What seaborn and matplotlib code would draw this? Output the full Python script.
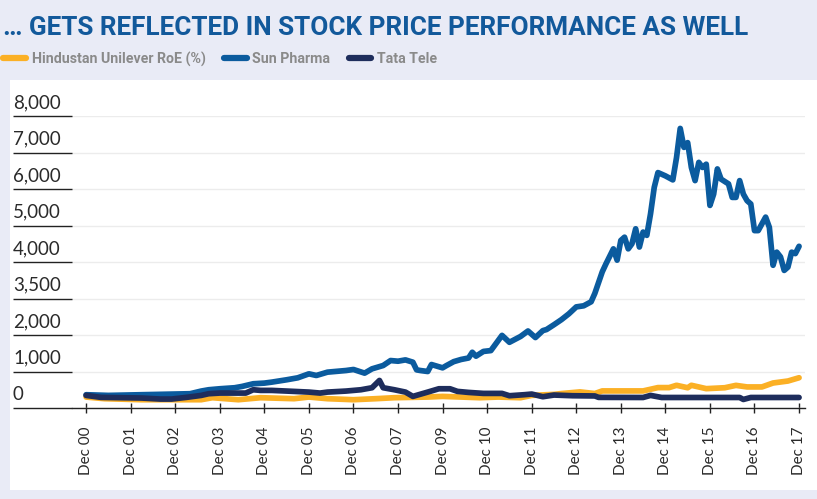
import numpy as np
import pandas as pd
import matplotlib
matplotlib.use("Agg")
import matplotlib.pyplot as plt
import matplotlib.transforms as mtransforms
from matplotlib.lines import Line2D
from matplotlib.patches import Rectangle
import seaborn as sns

# months counted from Dec 00 (each tick = 12 months on the chart's axis)
hul_months = [0, 5, 15, 31, 34, 41, 47, 56, 60, 65, 72, 78, 83, 92, 96, 106, 111, 117, 120,
              126, 128, 133, 137, 139, 150, 154, 157, 159, 162, 163, 167, 172, 175, 178, 182,
              185, 189, 192]
hul_values = [300, 255, 227, 227, 282, 227, 282, 255, 300, 255, 227, 255, 282, 300, 318, 282,
              300, 282, 345, 373, 396, 441, 396, 468, 468, 559, 559, 622, 555, 622, 530, 555,
              620, 577, 577, 685, 739, 829]

sun_months = [0, 6, 15, 28, 31, 33, 36, 40, 42, 45, 48, 50, 54, 57, 60, 62, 65, 68, 70, 72,
              75, 77, 80, 82, 84, 86, 88, 89, 90, 92, 93, 96, 97, 99, 101, 103, 104, 105, 107,
              109, 112, 114, 117, 119, 121, 123, 124, 126, 128, 130, 132, 134, 136, 137, 139,
              140, 142, 143, 144, 145, 146, 147, 148, 149, 150, 151, 152, 153, 154, 156, 158,
              159, 160, 161, 162, 163, 164, 165, 166, 167, 168, 169, 170, 171, 173, 174, 175,
              176, 177, 178, 179, 180, 181, 183, 184, 185, 186, 187, 188, 189, 190, 191, 192]
sun_values = [364, 345, 364, 391, 464, 500, 527, 555, 591, 664, 682, 709, 773, 827, 936, 891,
              982, 1009, 1027, 1055, 955, 1073, 1164, 1300, 1282, 1318, 1255, 1045, 1027, 1000,
              1191, 1100, 1160, 1270, 1330, 1370, 1527, 1420, 1550, 1573, 1990, 1800, 1960,
              2110, 1930, 2120, 2150, 2282, 2420, 2580, 2770, 2800, 2910, 3140, 3730, 3950,
              4360, 4050, 4590, 4680, 4360, 4500, 4910, 4410, 4820, 4730, 5320, 6045, 6450,
              6360, 6250, 6860, 7660, 7140, 7270, 6590, 6230, 6730, 6590, 6680, 5550, 5860,
              6550, 6270, 6140, 5770, 5770, 6230, 5860, 5680, 5590, 4860, 4860, 5230, 4950,
              3910, 4270, 4140, 3770, 3860, 4270, 4230, 4430]

tata_months = [0, 4, 15, 20, 23, 27, 31, 33, 36, 43, 45, 47, 50, 54, 60, 63, 65, 70, 74, 77,
               79, 80, 83, 86, 88, 92, 95, 98, 100, 103, 107, 112, 114, 118, 120, 123, 126,
               131, 137, 138, 150, 152, 155, 176, 177, 179, 192]
tata_values = [345, 291, 273, 245, 245, 291, 345, 391, 409, 409, 500, 482, 482, 464, 436, 409,
               436, 464, 500, 555, 755, 555, 500, 436, 318, 436, 527, 527, 455, 427, 400, 400,
               336, 364, 382, 309, 355, 336, 330, 291, 288, 345, 288, 288, 234, 288, 288]

series_names = ["Hindustan Unilever RoE (%)", "Sun Pharma", "Tata Tele"]
colors = ["#fbb025", "#0b5b9e", "#1e2d5c"]

tick_labels = ["Dec 00", "Dec 01", "Dec 02", "Dec 03", "Dec 04", "Dec 05", "Dec 06", "Dec 07",
               "Dec 09", "Dec 10", "Dec 11", "Dec 12", "Dec 13", "Dec 14", "Dec 15", "Dec 16",
               "Dec 17"]
ytick_values = [0, 1000, 2000, 3000, 4000, 5000, 6000, 7000, 8000]
ytick_labels = ["0", "1,000", "2,000", "3,500", "4,000", "5,000", "6,000", "7,000", "8,000"]

df = pd.concat([
    pd.DataFrame({"month": hul_months, "value": hul_values, "series": series_names[0]}),
    pd.DataFrame({"month": sun_months, "value": sun_values, "series": series_names[1]}),
    pd.DataFrame({"month": tata_months, "value": tata_values, "series": series_names[2]}),
])

sns.set_style("white")
plt.rcParams["font.family"] = ["Lato", "DejaVu Sans"]

W, H = 817, 499
fig = plt.figure(figsize=(W / 100, H / 100), dpi=100)
fig.patch.set_facecolor("#e9ebf6")

# white panel behind the chart
fig.patches.append(Rectangle((10 / W, 1 - 490 / H), 1 - 10 / W, (490 - 80) / H,
                             transform=fig.transFigure, facecolor="white",
                             edgecolor="none", zorder=-5))

ax = fig.add_axes([72 / W, 1 - 408 / H, (805 - 72) / W, (408 - 116) / H])
ax.set_facecolor("none")
ax.set_zorder(2)

sns.lineplot(data=df, x="month", y="value", hue="series", hue_order=series_names,
             palette=colors, estimator=None, linewidth=4.1, legend=False, ax=ax)

ax.set_xlim(-3.8, 193.6)
ax.set_ylim(0, 8000)
ax.set_xlabel("")
ax.set_ylabel("")

# y axis: labels sit left-aligned on top of long underline ticks
ax.set_yticks(ytick_values)
ax.set_yticklabels(ytick_labels)
ax.tick_params(axis="y", direction="out", length=42.5, width=1.0, color="#222222",
               pad=0, labelsize=13.5, labelcolor="#2a2a2a", left=True)
offset = mtransforms.ScaledTranslation(0, 3.5 / 72, fig.dpi_scale_trans)
for lab in ax.get_yticklabels():
    lab.set_horizontalalignment("left")
    lab.set_verticalalignment("bottom")
    lab.set_transform(lab.get_transform() + offset)

ax.set_xticks(np.arange(0, 193, 12))
ax.set_xticklabels(tick_labels, rotation=90, va="top", ha="center")
ax.tick_params(axis="x", direction="inout", length=7, width=1.0, color="#222222",
               pad=10, labelsize=11, labelcolor="#2a2a2a", bottom=True)

ax.grid(axis="y", color="#ececec", linewidth=1)
ax.grid(axis="x", visible=False)
for s in ["top", "right", "left"]:
    ax.spines[s].set_visible(False)
ax.spines["bottom"].set_color("#222222")
ax.spines["bottom"].set_linewidth(1.0)

fig.text(3 / W, 1 - 28 / H, "… GETS REFLECTED IN STOCK PRICE PERFORMANCE AS WELL",
         family=["Roboto", "DejaVu Sans"], weight="bold", fontsize=18.8, color="#12599b",
         va="center", ha="left")

handles = [Line2D([0], [0], color=c, linewidth=4.5) for c in colors]
leg = fig.legend(handles, series_names, loc="center left", bbox_to_anchor=(0.004, 1 - 59 / H),
                 ncol=3, frameon=False, handlelength=1.6, handletextpad=0.4,
                 columnspacing=1.3, borderaxespad=0, borderpad=0,
                 prop={"family": ["Roboto", "DejaVu Sans"], "weight": "bold", "size": 10.2})
for t in leg.get_texts():
    t.set_color("#8a8a8a")

fig.savefig("out.png", dpi=100, facecolor=fig.get_facecolor())
